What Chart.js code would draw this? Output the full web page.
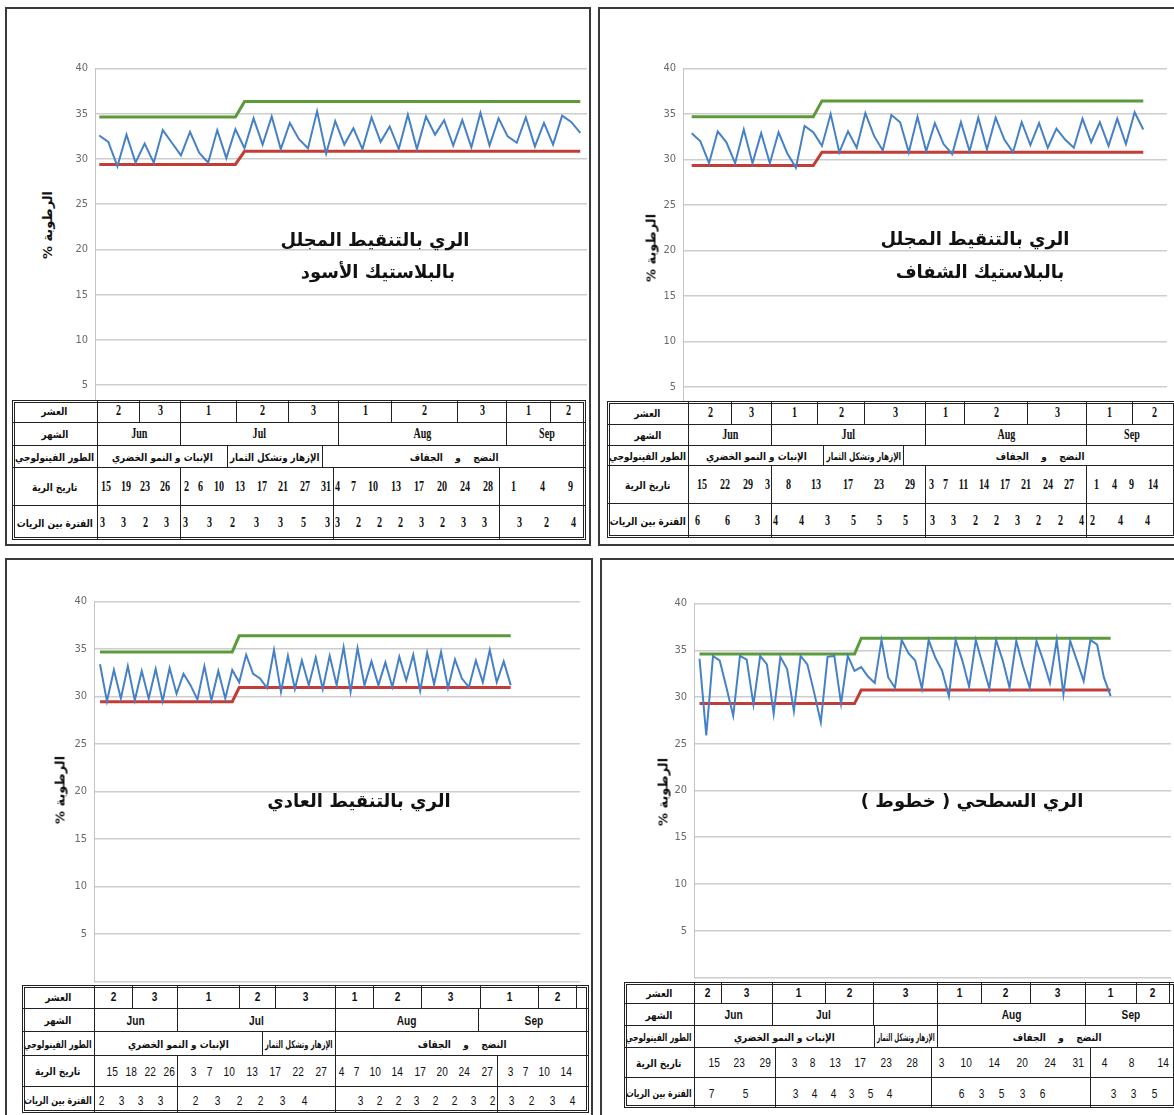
<!DOCTYPE html>
<html>
<head>
<meta charset="utf-8">
<script src="https://cdn.jsdelivr.net/npm/chart.js@4.4.1/dist/chart.umd.min.js"></script>
<style>
  html, body { margin: 0; padding: 0; background: #fff; }
  #page { position: relative; width: 1174px; height: 1115px; overflow: hidden; background: #fff; }
  .frame { position: absolute; box-sizing: border-box; border: 2px solid #3a3a3a; }
  .plot { position: absolute; }
  .caption { position: absolute; font-family: "DejaVu Sans", sans-serif; font-weight: bold; font-size: 18px;
             color: #111; direction: rtl; text-align: center; white-space: nowrap; transform: translate(-50%, -50%); }
  .ytitle { position: absolute; font-family: "DejaVu Sans", sans-serif; font-weight: bold; font-size: 13px; color: #111;
            white-space: nowrap; direction: rtl; transform: translate(-50%, -50%) rotate(-90deg); }
  .tblbg { position: absolute; background: #fff; }
  .tblframe { position: absolute; box-sizing: border-box; border: 3px double #222; }
  .cell { position: absolute; box-sizing: border-box; display: flex; align-items: center; overflow: hidden;
          white-space: pre; color: #111; }
  .cell span { display: inline-block; }
</style>
</head>
<body>
<div id="page"></div>
<script>
// ---------- soil moisture series (%) ----------
// drip irrigation under black plastic mulch
const moistureBlack = [32.6, 31.9, 29.2, 32.7, 29.6, 31.7, 29.6, 33.2, 31.8, 30.4,
  33.0, 30.7, 29.6, 33.2, 30.1, 33.3, 31.2, 34.5, 31.6, 34.7,
  31.1, 34.0, 32.2, 31.2, 35.3, 30.6, 34.2, 31.6, 33.4, 31.1,
  34.6, 31.9, 33.6, 31.1, 34.9, 31.1, 34.7, 32.7, 34.3, 31.5,
  34.3, 31.3, 35.1, 31.5, 34.5, 32.5, 31.8, 34.6, 31.4, 34.0,
  31.6, 34.8, 34.1, 32.9];
const upperBlack = [34.65, 34.65, 34.65, 34.65, 34.65, 34.65, 34.65, 34.65, 34.65, 34.65,
  34.65, 34.65, 34.65, 34.65, 34.65, 34.65, 36.35, 36.35, 36.35, 36.35,
  36.35, 36.35, 36.35, 36.35, 36.35, 36.35, 36.35, 36.35, 36.35, 36.35,
  36.35, 36.35, 36.35, 36.35, 36.35, 36.35, 36.35, 36.35, 36.35, 36.35,
  36.35, 36.35, 36.35, 36.35, 36.35, 36.35, 36.35, 36.35, 36.35, 36.35,
  36.35, 36.35, 36.35, 36.35];
const lowerBlack = [29.4, 29.4, 29.4, 29.4, 29.4, 29.4, 29.4, 29.4, 29.4, 29.4,
  29.4, 29.4, 29.4, 29.4, 29.4, 29.4, 30.85, 30.85, 30.85, 30.85,
  30.85, 30.85, 30.85, 30.85, 30.85, 30.85, 30.85, 30.85, 30.85, 30.85,
  30.85, 30.85, 30.85, 30.85, 30.85, 30.85, 30.85, 30.85, 30.85, 30.85,
  30.85, 30.85, 30.85, 30.85, 30.85, 30.85, 30.85, 30.85, 30.85, 30.85,
  30.85, 30.85, 30.85, 30.85];

// drip irrigation under clear plastic mulch
const moistureClear = [32.9, 32.0, 29.6, 33.1, 31.9, 29.6, 33.3, 29.6, 32.9, 29.6,
  33.0, 30.7, 29.1, 33.7, 33.0, 31.5, 35.0, 30.8, 33.1, 31.3,
  35.1, 32.6, 31.0, 34.9, 34.1, 30.8, 34.7, 30.9, 34.0, 31.7,
  30.6, 34.1, 30.9, 34.6, 31.1, 34.6, 32.2, 30.8, 34.1, 31.6,
  34.0, 31.3, 33.4, 32.2, 31.3, 34.5, 31.9, 34.1, 31.5, 34.5,
  31.7, 35.2, 33.3];
const upperClear = [34.7, 34.7, 34.7, 34.7, 34.7, 34.7, 34.7, 34.7, 34.7, 34.7,
  34.7, 34.7, 34.7, 34.7, 34.7, 36.45, 36.45, 36.45, 36.45, 36.45,
  36.45, 36.45, 36.45, 36.45, 36.45, 36.45, 36.45, 36.45, 36.45, 36.45,
  36.45, 36.45, 36.45, 36.45, 36.45, 36.45, 36.45, 36.45, 36.45, 36.45,
  36.45, 36.45, 36.45, 36.45, 36.45, 36.45, 36.45, 36.45, 36.45, 36.45,
  36.45, 36.45, 36.45];
const lowerClear = [29.35, 29.35, 29.35, 29.35, 29.35, 29.35, 29.35, 29.35, 29.35, 29.35,
  29.35, 29.35, 29.35, 29.35, 29.35, 30.8, 30.8, 30.8, 30.8, 30.8,
  30.8, 30.8, 30.8, 30.8, 30.8, 30.8, 30.8, 30.8, 30.8, 30.8,
  30.8, 30.8, 30.8, 30.8, 30.8, 30.8, 30.8, 30.8, 30.8, 30.8,
  30.8, 30.8, 30.8, 30.8, 30.8, 30.8, 30.8, 30.8, 30.8, 30.8,
  30.8, 30.8, 30.8];

// plain drip irrigation
const moisturePlain = [33.4, 29.5, 32.8, 29.8, 33.2, 29.6, 32.7, 29.8, 32.9, 29.5,
  33.0, 30.3, 32.4, 31.2, 29.7, 33.2, 29.6, 32.7, 29.8, 32.8,
  31.5, 34.4, 32.4, 31.9, 30.9, 34.9, 30.5, 34.3, 30.8, 33.8,
  31.2, 34.1, 30.8, 34.3, 31.2, 35.2, 30.5, 35.1, 31.2, 33.7,
  31.2, 33.6, 31.0, 34.2, 31.7, 34.4, 30.6, 34.6, 31.3, 34.7,
  30.9, 33.9, 31.9, 31.0, 33.8, 31.5, 34.9, 31.5, 33.7, 31.2];
const upperPlain = [34.7, 34.7, 34.7, 34.7, 34.7, 34.7, 34.7, 34.7, 34.7, 34.7,
  34.7, 34.7, 34.7, 34.7, 34.7, 34.7, 34.7, 34.7, 34.7, 34.7,
  36.4, 36.4, 36.4, 36.4, 36.4, 36.4, 36.4, 36.4, 36.4, 36.4,
  36.4, 36.4, 36.4, 36.4, 36.4, 36.4, 36.4, 36.4, 36.4, 36.4,
  36.4, 36.4, 36.4, 36.4, 36.4, 36.4, 36.4, 36.4, 36.4, 36.4,
  36.4, 36.4, 36.4, 36.4, 36.4, 36.4, 36.4, 36.4, 36.4, 36.4];
const lowerPlain = [29.45, 29.45, 29.45, 29.45, 29.45, 29.45, 29.45, 29.45, 29.45, 29.45,
  29.45, 29.45, 29.45, 29.45, 29.45, 29.45, 29.45, 29.45, 29.45, 29.45,
  30.95, 30.95, 30.95, 30.95, 30.95, 30.95, 30.95, 30.95, 30.95, 30.95,
  30.95, 30.95, 30.95, 30.95, 30.95, 30.95, 30.95, 30.95, 30.95, 30.95,
  30.95, 30.95, 30.95, 30.95, 30.95, 30.95, 30.95, 30.95, 30.95, 30.95,
  30.95, 30.95, 30.95, 30.95, 30.95, 30.95, 30.95, 30.95, 30.95, 30.95];

// surface (furrow) irrigation
const moistureFurrow = [34.1, 25.9, 34.4, 33.9, 31.0, 28.0, 34.4, 34.0, 29.2, 34.4,
  33.5, 28.2, 34.3, 33.0, 28.5, 34.4, 33.5, 30.5, 27.3, 34.3,
  34.4, 29.3, 34.4, 32.8, 33.2, 32.2, 31.5, 36.1, 32.1, 31.0,
  36.1, 34.7, 33.9, 30.9, 36.1, 34.2, 32.8, 30.1, 36.1, 33.9,
  31.1, 36.1, 33.5, 30.9, 36.1, 33.9, 31.0, 36.0, 33.3, 31.0,
  36.0, 33.9, 31.5, 36.1, 30.3, 36.0, 33.9, 31.7, 36.1, 35.6,
  32.1, 30.1];
const upperFurrow = [34.6, 34.6, 34.6, 34.6, 34.6, 34.6, 34.6, 34.6, 34.6, 34.6,
  34.6, 34.6, 34.6, 34.6, 34.6, 34.6, 34.6, 34.6, 34.6, 34.6,
  34.6, 34.6, 34.6, 34.6, 36.3, 36.3, 36.3, 36.3, 36.3, 36.3,
  36.3, 36.3, 36.3, 36.3, 36.3, 36.3, 36.3, 36.3, 36.3, 36.3,
  36.3, 36.3, 36.3, 36.3, 36.3, 36.3, 36.3, 36.3, 36.3, 36.3,
  36.3, 36.3, 36.3, 36.3, 36.3, 36.3, 36.3, 36.3, 36.3, 36.3,
  36.3, 36.3];
const lowerFurrow = [29.3, 29.3, 29.3, 29.3, 29.3, 29.3, 29.3, 29.3, 29.3, 29.3,
  29.3, 29.3, 29.3, 29.3, 29.3, 29.3, 29.3, 29.3, 29.3, 29.3,
  29.3, 29.3, 29.3, 29.3, 30.75, 30.75, 30.75, 30.75, 30.75, 30.75,
  30.75, 30.75, 30.75, 30.75, 30.75, 30.75, 30.75, 30.75, 30.75, 30.75,
  30.75, 30.75, 30.75, 30.75, 30.75, 30.75, 30.75, 30.75, 30.75, 30.75,
  30.75, 30.75, 30.75, 30.75, 30.75, 30.75, 30.75, 30.75, 30.75, 30.75,
  30.75, 30.75];

// ---------- axis ticks ----------
const yTickMin = 0;
const yTickMax = 40;
const yTickStep = 5;

// ---------- texts ----------
const yAxisTitle = 'الرطوبة %';
const rowHeads = ['العشر', 'الشهر', 'الطور الفينولوجي', 'تاريخ الرية', 'الفترة بين الريات'];
const captionBlack = ['الري بالتنقيط المجلل', 'بالبلاستيك  الأسود'];
const captionClear = ['الري بالتنقيط المجلل', 'بالبلاستيك  الشفاف'];
const captionPlain = ['الري بالتنقيط العادي'];
const captionFurrow = ['الري السطحي ( خطوط )'];
const stageNames = ['الإنبات و النمو الخضري', 'الإزهار وتشكل الثمار', 'النضج    و    الجفاف'];

// ---------- schedule tables ----------
const dekadsBlack = ['2', '3', '1', '2', '3', '1', '2', '3', '1', '2'];
const monthsBlack = ['Jun', 'Jul', 'Aug', 'Sep'];
const datesBlack = [[15, 19, 23, 26], [2, 6, 10, 13, 17, 21, 27, 31], [4, 7, 10, 13, 17, 20, 24, 28], [1, 4, 9]];
const gapsBlack = [[3, 3, 2, 3], [3, 3, 2, 3, 3, 5, 3], [3, 2, 2, 2, 3, 2, 3, 3], [3, 2, 4]];

const dekadsClear = ['2', '3', '1', '2', '3', '1', '2', '3', '1', '2'];
const monthsClear = ['Jun', 'Jul', 'Aug', 'Sep'];
const datesClear = [[15, 22, 29, 3], [8, 13, 17, 23, 29], [3, 7, 11, 14, 17, 21, 24, 27], [1, 4, 9, 14]];
const gapsClear = [[6, 6, 3], [4, 4, 3, 5, 5, 5], [3, 3, 2, 2, 3, 2, 2, 4], [2, 4, 4]];

const dekadsPlain = ['2', '3', '1', '2', '3', '1', '2', '3', '1', '2', ''];
const monthsPlain = ['Jun', 'Jul', 'Aug', 'Sep'];
const datesPlain = [[15, 18, 22, 26], [3, 7, 10, 13, 17, 22, 27], [4, 7, 10, 14, 17, 20, 24, 27], [3, 7, 10, 14]];
const gapsPlain = [[2, 3, 3, 3], [2, 3, 2, 2, 3, 4], [3, 2, 2, 3, 2, 2, 3, 2], [3, 2, 3, 4]];

const dekadsFurrow = ['2', '3', '1', '2', '3', '1', '2', '3', '1', '2', ''];
const monthsFurrow = ['Jun', 'Jul', '', 'Aug', 'Sep'];
const datesFurrow = [[15, 23, 29], [3, 8, 13, 17, 23, 28], [3, 10, 14, 20, 24, 31], [4, 8, 14]];
const gapsFurrow = [[7, 5], [3, 4, 4, 3, 5, 4], [6, 3, 5, 3, 6], [3, 3, 5]];

// ---------- page geometry ----------
const SERIF = 'bold 14px "Liberation Serif", "DejaVu Serif", serif';
const NARROW = '13px "Liberation Sans Narrow", "Liberation Sans", sans-serif';
const NARROW_BOLD = 'bold 13px "Liberation Sans Narrow", "Liberation Sans", sans-serif';
const HEAD = 'bold 10.5px "DejaVu Sans", sans-serif';

const panels = [
  {
    series: [moistureBlack, upperBlack, lowerBlack],
    frame: [5, 7, 586, 539],
    plot: { axisX: 95, right: 587, y40: 65, y0: 434, xMin: -0.47, xMax: 53.74 },
    ytitle: [47, 225],
    caption: captionBlack, capPos: [[375, 239], [378, 271]],
    table: {
      left: 12, right: 586, rows: [400, 422, 445, 467, 505, 540],
      edges: [[97, 139, 180, 236, 288, 338, 391, 457, 506, 550, 586],
              [97, 180, 338, 506, 586],
              [97, 227, 322, 586],
              [97, 180, 333, 499, 586],
              [97, 180, 333, 499, 586]],
      pads: [[[1, 8], [2, 0], [0, 4], [10, 12]], [[1, 10], [1, 2], [0, 11], [16, 9]]],
      font: SERIF, labelFont: SERIF, squeeze: 0.72
    },
    cells: [dekadsBlack, monthsBlack, stageNames, datesBlack, gapsBlack]
  },
  {
    series: [moistureClear, upperClear, lowerClear],
    frame: [598, 7, 600, 539],
    plot: { axisX: 683, right: 1167, y40: 65, y0: 436, xMin: -1.0, xMax: 54.73 },
    ytitle: [651, 248],
    caption: captionClear, capPos: [[975, 238], [980, 271]],
    table: {
      left: 607, right: 1176, rows: [401, 424, 445, 465, 503, 538],
      edges: [[688, 731, 771, 817, 864, 925, 964, 1027, 1086, 1132, 1176],
              [688, 771, 925, 1086, 1176],
              [688, 823, 903, 1176],
              [688, 771, 925, 1086, 1176],
              [688, 771, 925, 1086, 1176]],
      pads: [[[6, 0], [13, 8], [2, 10], [6, 16]], [[5, 10], [0, 16], [3, 1], [2, 25]]],
      font: SERIF, labelFont: SERIF, squeeze: 0.72
    },
    cells: [dekadsClear, monthsClear, stageNames, datesClear, gapsClear]
  },
  {
    series: [moisturePlain, upperPlain, lowerPlain],
    frame: [5, 558, 588, 600],
    plot: { axisX: 94, right: 580, y40: 598, y0: 985, xMin: -0.86, xMax: 68.96 },
    ytitle: [60, 790],
    caption: captionPlain, capPos: [[359, 800]],
    table: {
      left: 22, right: 589, rows: [985, 1008, 1031, 1055, 1086, 1113],
      edges: [[94, 132, 177, 239, 275, 335, 373, 421, 480, 538, 576, 589],
              [94, 177, 335, 478, 589],
              [94, 262, 335, 589],
              [94, 177, 335, 497, 589],
              [94, 177, 335, 497, 589]],
      pads: [[[10, 1], [12, 6], [2, 3], [9, 16]], [[3, 13], [14, 27], [21, 1], [10, 13]]],
      font: NARROW, labelFont: NARROW_BOLD, squeeze: 0.78
    },
    cells: [dekadsPlain, monthsPlain, stageNames, datesPlain, gapsPlain]
  },
  {
    series: [moistureFurrow, upperFurrow, lowerFurrow],
    frame: [600, 558, 600, 600],
    plot: { axisX: 694, right: 1171, y40: 600, y0: 981, xMin: -0.82, xMax: 69.96 },
    ytitle: [663, 792],
    caption: captionFurrow, capPos: [[972, 800]],
    table: {
      left: 624, right: 1176, rows: [982, 1003, 1025, 1047, 1077, 1108],
      edges: [[694, 721, 772, 825, 873, 937, 981, 1030, 1085, 1136, 1169, 1176],
              [694, 772, 873, 937, 1085, 1176],
              [694, 874, 937, 1176],
              [694, 775, 931, 1090, 1176],
              [694, 775, 931, 1090, 1176]],
      pads: [[[12, 3], [15, 12], [6, 5], [10, 6]], [[13, 26], [16, 38], [26, 44], [19, 18]]],
      font: NARROW, labelFont: NARROW_BOLD, squeeze: 0.78
    },
    cells: [dekadsFurrow, monthsFurrow, stageNames, datesFurrow, gapsFurrow]
  }
];

const page = document.getElementById('page');

function box(cls, left, top, width, height) {
  const d = document.createElement('div');
  d.className = cls;
  Object.assign(d.style, { left: left + 'px', top: top + 'px', width: width + 'px', height: height + 'px' });
  page.appendChild(d);
  return d;
}

function drawChart(p) {
  const AXIS_W = 30, PAD = 10;
  const g = p.plot;
  const holder = box('plot', g.axisX - AXIS_W, g.y40 - PAD, g.right - g.axisX + AXIS_W, g.y0 - g.y40 + 2 * PAD);
  const canvas = document.createElement('canvas');
  holder.appendChild(canvas);
  const toPoints = arr => arr.map((v, i) => ({ x: i, y: v }));
  const [moist, upper, lower] = p.series;
  new Chart(canvas, {
    type: 'line',
    data: {
      datasets: [
        { data: toPoints(moist), borderColor: '#4681c6', borderWidth: 2, pointRadius: 0, tension: 0 },
        { data: toPoints(upper), borderColor: '#5c9a3c', borderWidth: 3, pointRadius: 0, tension: 0 },
        { data: toPoints(lower), borderColor: '#c23d37', borderWidth: 3, pointRadius: 0, tension: 0 }
      ]
    },
    options: {
      animation: false, responsive: true, maintainAspectRatio: false,
      layout: { padding: { top: PAD, bottom: PAD, left: 0, right: 0 } },
      plugins: { legend: { display: false }, tooltip: { enabled: false } },
      scales: {
        x: { type: 'linear', display: false, min: g.xMin, max: g.xMax },
        y: {
          min: yTickMin, max: yTickMax,
          ticks: { stepSize: yTickStep, padding: 7, color: '#6a6a6a',
                   callback: v => (v === yTickMin ? '' : v),
                   font: { family: '"Liberation Sans Narrow", "DejaVu Sans Condensed", sans-serif', size: 11 } },
          grid: { color: '#cdcdcd', lineWidth: 1.6, drawTicks: false },
          border: { display: true, color: '#c4c4c4', width: 1 },
          afterFit(scale) { scale.width = AXIS_W; }
        }
      }
    }
  });
}

// squeeze a span horizontally so it fits inside its cell
function fitSpan(cell, span, base) {
  const avail = cell.clientWidth - 4;
  const w = span.offsetWidth;
  const k = w > 0 ? Math.min(base, avail / w) : base;
  span.style.transform = 'scaleX(' + k.toFixed(3) + ')';
}

function drawCell(t, r, x0, x1, content, pad) {
  const y0 = t.rows[r], y1 = t.rows[r + 1];
  const c = box('cell', x0, y0, x1 - x0, y1 - y0);
  if (x0 !== t.left) c.style.borderLeft = '1px solid #222';
  if (r > 0) c.style.borderTop = '1px solid #222';
  if (Array.isArray(content)) {
    c.style.font = t.font;
    c.style.justifyContent = content.length > 1 ? 'space-between' : 'center';
    c.style.paddingLeft = pad[0] + 'px';
    c.style.paddingRight = pad[1] + 'px';
    content.forEach(n => {
      const s = document.createElement('span');
      s.textContent = String(n);
      s.style.transform = 'scaleX(' + t.squeeze + ')';
      c.appendChild(s);
    });
  } else {
    c.style.justifyContent = 'center';
    const s = document.createElement('span');
    s.textContent = content;
    c.appendChild(s);
    if (/[\u0600-\u06FF]/.test(content)) {
      s.style.font = HEAD;
      s.style.direction = 'rtl';
      fitSpan(c, s, 0.85);
    } else {
      s.style.font = t.labelFont;
      s.style.transform = 'scaleX(' + t.squeeze + ')';
    }
  }
}

function drawTable(p) {
  const t = p.table;
  box('tblbg', t.left, t.rows[0], t.right - t.left, t.rows[5] - t.rows[0]);
  for (let r = 0; r < 5; r++) {
    const e = t.edges[r];
    drawCell(t, r, t.left, e[0], rowHeads[r], null);
    const vals = p.cells[r];
    for (let k = 0; k < vals.length; k++) {
      const pad = r >= 3 ? t.pads[r - 3][k] : [0, 0];
      drawCell(t, r, e[k], e[k + 1], vals[k], pad);
    }
  }
  box('tblframe', t.left, t.rows[0], t.right - t.left, t.rows[5] - t.rows[0]);
}

function drawTexts(p) {
  p.caption.forEach((line, i) => {
    const d = box('caption', p.capPos[i][0], p.capPos[i][1], 0, 0);
    d.style.width = 'auto'; d.style.height = 'auto';
    d.textContent = line;
  });
  const y = box('ytitle', p.ytitle[0], p.ytitle[1], 0, 0);
  y.style.width = 'auto'; y.style.height = 'auto';
  y.textContent = yAxisTitle;
}

panels.forEach(p => {
  box('frame', p.frame[0], p.frame[1], p.frame[2], p.frame[3]);
  drawChart(p);
  drawTexts(p);
  drawTable(p);
});
</script>
</body>
</html>
